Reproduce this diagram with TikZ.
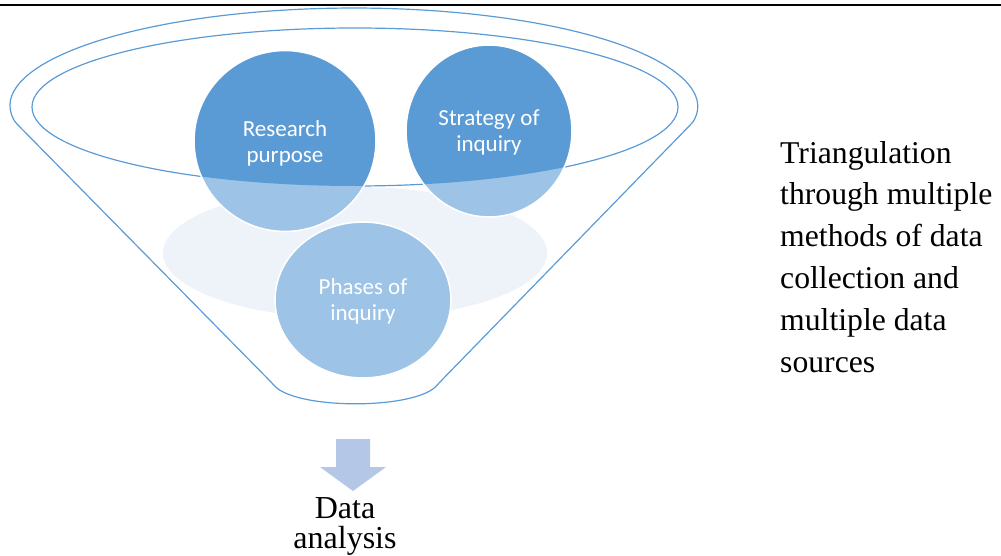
\documentclass[tikz,border=0pt]{standalone}
\usepackage{fontspec}
\setmainfont{Liberation Serif}
\newfontfamily\timesface{Liberation Serif}
\newfontfamily\bubblefont{Carlito}
\definecolor{funnelblue}{HTML}{5B9BD5}
\definecolor{bubblelight}{HTML}{9DC3E6}
\definecolor{hazefill}{HTML}{EEF2F9}
\definecolor{arrowfill}{HTML}{B4C7E7}
\tikzset{
  funnel line/.style={draw=funnelblue, line width=1.2pt},
  bubble rim/.style={draw=white, line width=1.6pt},
  bubble text/.style={text=white, align=center, inner sep=0pt,
    font=\bubblefont\fontsize{23}{26}\selectfont},
  side text/.style={align=left, inner sep=0pt,
    font=\timesface\fontsize{31.7}{41.8}\selectfont},
  result text/.style={align=center, inner sep=0pt,
    font=\timesface\fontsize{32}{30}\selectfont}
}
\begin{document}
\begin{tikzpicture}[x=1pt, y=-1pt]
\useasboundingbox (0,0) rectangle (1001,556);
% rule across the top
\draw[line width=2.4pt] (0,5) -- (1001,5);

% pale disc inside the funnel
\fill[hazefill] (355,253) ellipse [x radius=192, y radius=66];

% funnel outline and its mouth
\draw[funnel line, rounded corners=3pt] (15,122)
  arc[start angle=171.3, end angle=368.7, x radius=343, y radius=99]
  -- (439,383) .. controls (416,410) and (295,410) .. (272,383) -- cycle;
\draw[funnel line] (355,107) ellipse [x radius=323, y radius=79];

% bubbles: light below the mouth, darker inside it
\fill[bubblelight] (285,141) ellipse [x radius=91, y radius=90.5];
\begin{scope}
  \clip (355,107) ellipse [x radius=323, y radius=79];
  \fill[funnelblue] (285,141) ellipse [x radius=91, y radius=90.5];
\end{scope}
\draw[bubble rim] (285,141) ellipse [x radius=91, y radius=90.5];

\fill[bubblelight] (489,131) ellipse [x radius=83, y radius=86];
\begin{scope}
  \clip (355,107) ellipse [x radius=323, y radius=79];
  \fill[funnelblue] (489,131) ellipse [x radius=83, y radius=86];
\end{scope}
\draw[bubble rim] (489,131) ellipse [x radius=83, y radius=86];

\fill[bubblelight] (363,300) ellipse [x radius=88, y radius=78];
\draw[bubble rim] (363,300) ellipse [x radius=88, y radius=78];

\node[bubble text] (purpose) at (285,143) {Research\\purpose};
\node[bubble text] (strategy) at (489,132) {Strategy of\\inquiry};
\node[bubble text] (phases) at (363,301) {Phases of\\inquiry};

% block arrow out of the funnel
\fill[arrowfill] (336,439) -- (370,439) -- (370,467) -- (386,467)
  -- (353,491) -- (320,467) -- (336,467) -- cycle;

\node[result text, anchor=north] (analysis) at (345,497) {Data\\analysis};

\node[side text, anchor=north west] (triangulation) at (780,141)
  {Triangulation\\through multiple\\methods of data\\collection and\\multiple data\\sources};
\end{tikzpicture}
\end{document}
